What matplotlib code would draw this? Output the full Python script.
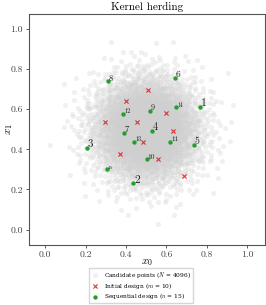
import numpy as np
import matplotlib
matplotlib.use("Agg")
import matplotlib.pyplot as plt

plt.rcParams["font.family"] = "serif"
plt.rcParams["font.serif"] = ["cmr10"]
plt.rcParams["mathtext.fontset"] = "cm"
plt.rcParams["axes.formatter.use_mathtext"] = True

# initial design (red crosses)
init_x0 = [0.510, 0.400, 0.596, 0.296, 0.454, 0.631, 0.485, 0.370, 0.558, 0.685]
init_x1 = [0.695, 0.642, 0.583, 0.538, 0.535, 0.490, 0.438, 0.378, 0.352, 0.267]

# sequential design, in selection order 1..15
seq_x0 = [0.767, 0.436, 0.206, 0.528, 0.735, 0.641, 0.390, 0.309,
          0.517, 0.502, 0.617, 0.386, 0.441, 0.647, 0.305]
seq_x1 = [0.612, 0.230, 0.409, 0.493, 0.423, 0.758, 0.482, 0.740,
          0.592, 0.350, 0.438, 0.578, 0.438, 0.610, 0.300]

n_cand = 4096


def halton(n, base):
    out = np.zeros(n)
    for i in range(n):
        f, r, k = 1.0, 0.0, i + 1
        while k > 0:
            f /= base
            r += f * (k % base)
            k //= base
        out[i] = r
    return out


# candidate set: low-discrepancy gaussian cloud
u1 = halton(n_cand, 2)
u2 = halton(n_cand, 3)
rad = np.sqrt(-2 * np.log(1 - u1 * 0.9995))
cand_x0 = 0.5 + 0.13 * rad * np.cos(2 * np.pi * u2)
cand_x1 = 0.5 + 0.13 * rad * np.sin(2 * np.pi * u2)

fig = plt.figure(figsize=(2.66, 3.05), dpi=100)
ax = fig.add_axes([0.110, 0.198, 0.885, 0.756])

ax.scatter(cand_x0, cand_x1, s=13, color="#cfcfcf", alpha=0.3, linewidths=0,
           label=r"Candidate points ($N$ = 4096)")
ax.scatter(init_x0, init_x1, s=9, marker="x", color="#e03030", linewidths=0.8,
           label=r"Initial design ($m$ = 10)")
ax.scatter(seq_x0, seq_x1, s=10, color="#22a02a", linewidths=0,
           label=r"Sequential design ($n$ = 15)", zorder=3)

for i, (a, b) in enumerate(zip(seq_x0, seq_x1)):
    ax.text(a + 0.005, b + 0.003, str(i + 1), fontsize=max(8.5 - 0.35 * i, 3.5),
            fontweight="bold", color="#222222", zorder=4)

ax.set_xlim(-0.079, 1.086)
ax.set_ylim(-0.075, 1.075)
ax.set_xticks([0.0, 0.2, 0.4, 0.6, 0.8, 1.0])
ax.set_yticks([0.0, 0.2, 0.4, 0.6, 0.8, 1.0])
ax.set_xticklabels(["0.0", "0.2", "0.4", "0.6", "0.8", "1.0"])
ax.set_yticklabels(["0.0", "0.2", "0.4", "0.6", "0.8", "1.0"])
ax.tick_params(labelsize=7, length=2.5, width=0.6, colors="#444444", pad=2)
for s in ax.spines.values():
    s.set_color("#555555")
    s.set_linewidth(0.8)
ax.set_xlabel(r"$x_0$", fontsize=8, labelpad=-1.5)
ax.set_ylabel(r"$x_1$", fontsize=8)
ax.yaxis.set_label_coords(-0.062, 0.5)
ax.set_title("Kernel herding", fontsize=8, pad=3)

fig.legend(loc="lower center", bbox_to_anchor=(0.53, 0.008),
           prop={"family": "DejaVu Serif", "size": 4.2},
           frameon=True, edgecolor="#cccccc", fancybox=False, handletextpad=0.8,
           borderpad=0.25, labelspacing=0.1, handlelength=1.5, borderaxespad=0)

fig.savefig("out.png", dpi=100)
